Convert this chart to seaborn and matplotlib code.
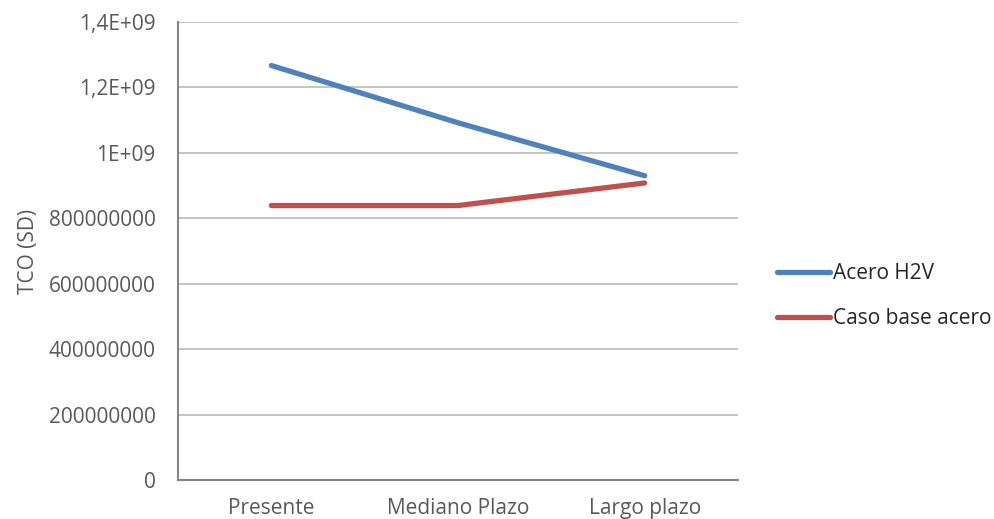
import pandas as pd
import seaborn as sns
import matplotlib.pyplot as plt

# data
periods = ["Presente", "Mediano Plazo", "Largo plazo"]
acero_h2v = [1.267e9, 1.092e9, 0.930e9]
caso_base = [0.839e9, 0.839e9, 0.908e9]
series_names = ["Acero H2V", "Caso base acero"]
y_ticks = [0, 2e8, 4e8, 6e8, 8e8, 1e9, 1.2e9, 1.4e9]
y_tick_labels = ["0", "200000000", "400000000", "600000000", "800000000",
                 "1E+09", "1,2E+09", "1,4E+09"]

df = pd.DataFrame({
    "periodo": periods * 2,
    "tco": acero_h2v + caso_base,
    "serie": [series_names[0]] * 3 + [series_names[1]] * 3,
})

sns.set_style("white")
plt.rcParams['font.family'] = ['Open Sans', 'DejaVu Sans']
text_col = "#595959"
fs = 15

fig = plt.figure(figsize=(9.95, 5.19), dpi=100)
ax = fig.add_axes([178 / 995, 1 - 480 / 519, (738 - 178) / 995, (480 - 22) / 519])

sns.lineplot(data=df, x="periodo", y="tco", hue="serie", sort=False,
             palette=["#4F81BD", "#C0504D"], linewidth=3.8, ax=ax,
             solid_capstyle="round", legend=False)

ax.set_xlim(-0.5, 2.5)
ax.set_ylim(0, 1.4e9)
ax.set_yticks(y_ticks)
ax.set_yticklabels(y_tick_labels)
ax.grid(axis="y", color="#BFBFBF", linewidth=1.3)
ax.set_axisbelow(True)
for s in ["top", "right"]:
    ax.spines[s].set_visible(False)
for s in ["left", "bottom"]:
    ax.spines[s].set_color("#868686")
    ax.spines[s].set_linewidth(1.5)
ax.tick_params(axis="both", length=0, labelsize=fs, labelcolor=text_col)
ax.tick_params(axis="y", pad=16)
ax.tick_params(axis="x", pad=13)
ax.set_xlabel("")
ax.set_ylabel("TCO (SD)", fontsize=fs, color=text_col, labelpad=7)

handles = ax.get_lines()[:2]
fig.legend(handles, series_names, loc="center left",
           bbox_to_anchor=(777 / 995, 1 - 296 / 519), frameon=False,
           fontsize=fs, handlelength=2.55, handletextpad=0.12,
           labelspacing=1.15, borderpad=0, borderaxespad=0,
           labelcolor="#262626")

fig.savefig("out.png", dpi=100)
